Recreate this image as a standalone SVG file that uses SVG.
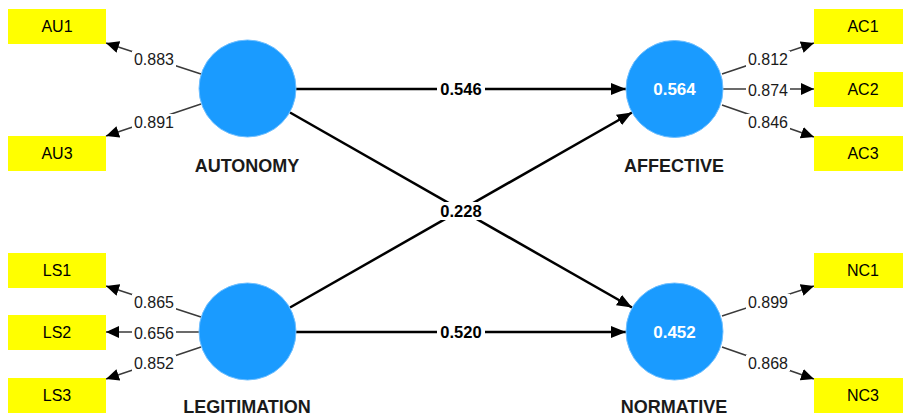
<svg xmlns="http://www.w3.org/2000/svg" width="903" height="416" viewBox="0 0 903 416">
<defs>
<style>
.ind rect{fill:#ffff00;stroke:none}
.ind text{font-family:"Liberation Sans",Arial,sans-serif;font-size:16px;fill:#000;text-anchor:middle}
.lat circle{fill:#1a9bff;stroke:#6fbfff;stroke-width:1}
.lat text.name{font-family:"Liberation Sans",Arial,sans-serif;font-size:18px;font-weight:bold;fill:#1a1a1a;text-anchor:middle}
.lat text.r2{font-family:"Liberation Sans",Arial,sans-serif;font-size:17px;font-weight:bold;fill:#fff;text-anchor:middle}
.load{stroke:#3a3a3a;stroke-width:1.5;fill:none;marker-end:url(#ah)}
.path{stroke:#000;stroke-width:2.5;fill:none;marker-end:url(#ahp)}
.lbl rect{fill:#fff}
.ltxt{font-family:"Liberation Sans",Arial,sans-serif;font-size:16px;fill:#1a1a1a;text-anchor:middle}
.ptxt{font-family:"Liberation Sans",Arial,sans-serif;font-size:16.5px;font-weight:bold;fill:#000;text-anchor:middle}
</style>
<marker id="ah" markerUnits="userSpaceOnUse" markerWidth="14" markerHeight="12" refX="13" refY="6" orient="auto">
<path d="M0,0 L13,6 L0,12 z" fill="#000"/>
</marker>
<marker id="ahp" markerUnits="userSpaceOnUse" markerWidth="16" markerHeight="12" refX="15" refY="6" orient="auto">
<path d="M0,0 L15,6 L0,12 z" fill="#000"/>
</marker>
</defs>
<rect width="903" height="416" fill="#fff"/>

<g id="connectors">
<line class="load" x1="201" y1="74" x2="106" y2="43"/>
<line class="load" x1="201" y1="104" x2="106" y2="136"/>
<line class="load" x1="201" y1="317" x2="106" y2="286"/>
<line class="load" x1="200" y1="332" x2="106" y2="332"/>
<line class="load" x1="201" y1="347" x2="106" y2="379"/>
<line class="load" x1="722" y1="74" x2="814" y2="43"/>
<line class="load" x1="723" y1="89" x2="814" y2="89"/>
<line class="load" x1="722" y1="105" x2="814" y2="137"/>
<line class="load" x1="722" y1="316" x2="814" y2="286"/>
<line class="load" x1="722" y1="347" x2="814" y2="379"/>
<line class="path" x1="296" y1="89" x2="626" y2="89"/>
<line class="path" x1="296" y1="332" x2="626" y2="332"/>
<line class="path" x1="290" y1="112.5" x2="632" y2="307.5"/>
<line class="path" x1="290" y1="307.5" x2="632" y2="112.5"/>
<g class="lbl">
<rect x="132" y="51" width="44" height="16"/><text class="ltxt" x="154" y="65">0.883</text>
<rect x="132" y="114" width="44" height="16"/><text class="ltxt" x="154" y="128">0.891</text>
<rect x="132" y="294" width="44" height="16"/><text class="ltxt" x="154" y="308">0.865</text>
<rect x="132" y="325" width="44" height="16"/><text class="ltxt" x="154" y="339">0.656</text>
<rect x="132" y="355" width="44" height="16"/><text class="ltxt" x="154" y="369">0.852</text>
<rect x="746" y="51" width="44" height="16"/><text class="ltxt" x="768" y="65">0.812</text>
<rect x="746" y="82" width="44" height="16"/><text class="ltxt" x="768" y="96">0.874</text>
<rect x="746" y="114" width="44" height="16"/><text class="ltxt" x="768" y="128">0.846</text>
<rect x="746" y="294" width="44" height="16"/><text class="ltxt" x="768" y="308">0.899</text>
<rect x="746" y="355" width="44" height="16"/><text class="ltxt" x="768" y="369">0.868</text>
<rect x="437" y="80" width="48" height="18"/><text class="ptxt" x="461" y="95">0.546</text>
<rect x="437" y="323" width="48" height="18"/><text class="ptxt" x="461" y="338">0.520</text>
<rect x="437" y="202" width="48" height="18"/><text class="ptxt" x="461" y="217">0.228</text>
</g>
</g>

<g id="AU1" class="ind"><rect x="8" y="9" width="98" height="35"/><text x="57" y="32">AU1</text></g>
<g id="AU3" class="ind"><rect x="8" y="136" width="98" height="35"/><text x="57" y="159">AU3</text></g>
<g id="LS1" class="ind"><rect x="8" y="253" width="98" height="35"/><text x="57" y="276">LS1</text></g>
<g id="LS2" class="ind"><rect x="8" y="315" width="98" height="35"/><text x="57" y="338">LS2</text></g>
<g id="LS3" class="ind"><rect x="8" y="378" width="98" height="35"/><text x="57" y="401">LS3</text></g>
<g id="AC1" class="ind"><rect x="814" y="9" width="98" height="35"/><text x="863" y="32">AC1</text></g>
<g id="AC2" class="ind"><rect x="814" y="72" width="98" height="35"/><text x="863" y="95">AC2</text></g>
<g id="AC3" class="ind"><rect x="814" y="136" width="98" height="35"/><text x="863" y="159">AC3</text></g>
<g id="NC1" class="ind"><rect x="814" y="253" width="98" height="35"/><text x="863" y="276">NC1</text></g>
<g id="NC3" class="ind"><rect x="814" y="378" width="98" height="35"/><text x="863" y="401">NC3</text></g>

<g id="AUTONOMY" class="lat"><circle cx="247.5" cy="88.5" r="48.5"/><text class="name" x="247" y="172">AUTONOMY</text></g>
<g id="LEGITIMATION" class="lat"><circle cx="247.5" cy="331.5" r="48.5"/><text class="name" x="247" y="413">LEGITIMATION</text></g>
<g id="AFFECTIVE" class="lat"><circle cx="674.5" cy="89" r="48.5"/><text class="r2" x="674.5" y="95">0.564</text><text class="name" x="674" y="172">AFFECTIVE</text></g>
<g id="NORMATIVE" class="lat"><circle cx="674.5" cy="331.5" r="48.5"/><text class="r2" x="674.5" y="338">0.452</text><text class="name" x="674" y="413">NORMATIVE</text></g>
</svg>
